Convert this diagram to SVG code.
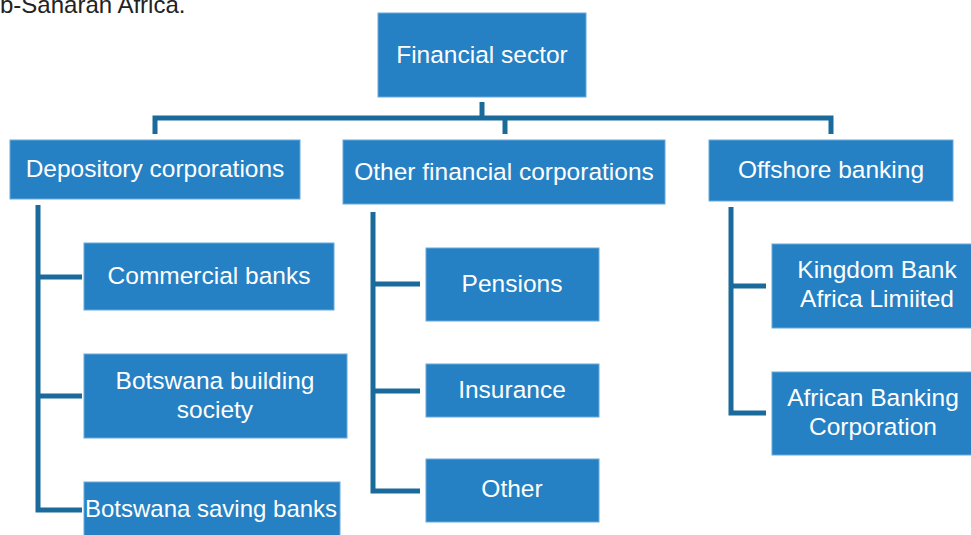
<svg xmlns="http://www.w3.org/2000/svg" width="971" height="535" viewBox="0 0 971 535">
  <style>
    .box { fill: #2581c3; stroke: #6aa9d9; stroke-width: 1; }
    .lbl { font-family: "Liberation Sans", Arial, sans-serif; font-size: 24.5px; fill: #ffffff; text-anchor: middle; }
    .lbl.tight { font-size: 24px; }
    .link { fill: none; stroke: #1b6a9c; stroke-width: 5; stroke-linejoin: miter; stroke-linecap: butt; }
    .caption { font-family: "Liberation Sans", Arial, sans-serif; font-size: 24px; fill: #222222; }
  </style>

  <rect x="0" y="0" width="971" height="535" fill="#ffffff"/>

  <text class="caption" x="0" y="13">b-Saharan Africa.</text>

  <!-- tree connectors -->
  <g id="connectors">
    <path class="link" d="M482 102 V118"/>
    <path class="link" d="M155 134 V118 H831 V134"/>
    <path class="link" d="M505 118 V134"/>
    <!-- depository branch -->
    <path class="link" d="M38 205 V510 H82"/>
    <path class="link" d="M38 277 H82"/>
    <path class="link" d="M38 396 H82"/>
    <!-- other financial branch -->
    <path class="link" d="M373 212 V491 H420"/>
    <path class="link" d="M373 284 H420"/>
    <path class="link" d="M373 391 H420"/>
    <!-- offshore branch -->
    <path class="link" d="M731 207 V413 H766"/>
    <path class="link" d="M731 286 H766"/>
  </g>

  <g id="financial-sector">
    <rect class="box" x="378" y="13" width="208" height="84"/>
    <text class="lbl" x="482" y="63">Financial sector</text>
  </g>

  <g id="depository-corporations">
    <rect class="box" x="10" y="140" width="290" height="59"/>
    <text class="lbl" x="155" y="177">Depository corporations</text>
  </g>

  <g id="other-financial-corporations">
    <rect class="box" x="343" y="140" width="322" height="64"/>
    <text class="lbl" x="504" y="180">Other financial corporations</text>
  </g>

  <g id="offshore-banking">
    <rect class="box" x="709" y="140" width="244" height="61"/>
    <text class="lbl" x="831" y="178">Offshore banking</text>
  </g>

  <g id="commercial-banks">
    <rect class="box" x="84" y="243" width="250" height="67"/>
    <text class="lbl" x="209" y="284">Commercial banks</text>
  </g>

  <g id="botswana-building-society">
    <rect class="box" x="84" y="354" width="263" height="84"/>
    <text class="lbl" x="215" y="389">Botswana building</text>
    <text class="lbl" x="215" y="418">society</text>
  </g>

  <g id="botswana-saving-banks">
    <rect class="box" x="84" y="482" width="256" height="56"/>
    <text class="lbl tight" x="211" y="517">Botswana saving banks</text>
  </g>

  <g id="pensions">
    <rect class="box" x="426" y="248" width="173" height="73"/>
    <text class="lbl" x="512" y="292">Pensions</text>
  </g>

  <g id="insurance">
    <rect class="box" x="426" y="364" width="173" height="53"/>
    <text class="lbl" x="512" y="398">Insurance</text>
  </g>

  <g id="other">
    <rect class="box" x="426" y="459" width="173" height="63"/>
    <text class="lbl" x="512" y="497">Other</text>
  </g>

  <g id="kingdom-bank">
    <rect class="box" x="772" y="244" width="205" height="84"/>
    <text class="lbl" x="877" y="278">Kingdom Bank</text>
    <text class="lbl" x="877" y="307">Africa Limiited</text>
  </g>

  <g id="african-banking-corporation">
    <rect class="box" x="772" y="372" width="205" height="83"/>
    <text class="lbl" x="873" y="406">African Banking</text>
    <text class="lbl" x="873" y="435">Corporation</text>
  </g>
</svg>
